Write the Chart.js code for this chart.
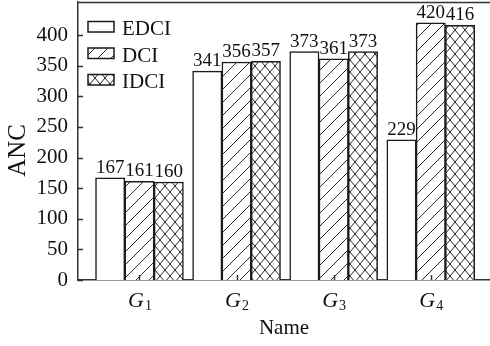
<!DOCTYPE html>
<html>
<head>
<meta charset="utf-8">
<script src="https://cdn.jsdelivr.net/npm/chart.js@4.4.0/dist/chart.umd.min.js"></script>
<style>
  html, body { margin: 0; padding: 0; background: #fff; }
  #wrap { width: 490px; height: 346px; }
</style>
</head>
<body>
<div id="wrap"><canvas id="c" width="490" height="346"></canvas></div>
<script>
const categories = ['G1', 'G2', 'G3', 'G4'];
const seriesNames = ['EDCI', 'DCI', 'IDCI'];
const edci = [167, 341, 373, 229];
const dci = [161, 356, 361, 420];
const idci = [160, 357, 373, 416];
const yTicks = [0, 50, 100, 150, 200, 250, 300, 350, 400];
const xTitle = 'Name';
const yTitle = 'ANC';

const FONT = "'Liberation Serif', 'Times New Roman', serif";
const INK = '#1a1a1a';

function makePattern(type) {
  if (type === 'none') return '#ffffff';
  const w = type === 'cross' ? 10 : 13;
  const h = type === 'cross' ? 12 : 13;
  const c = document.createElement('canvas');
  c.width = w; c.height = h;
  const g = c.getContext('2d');
  g.fillStyle = '#ffffff';
  g.fillRect(0, 0, w, h);
  g.strokeStyle = '#111';
  g.lineWidth = 0.9;
  g.beginPath();
  g.moveTo(-w * 0.1, h * 1.1); g.lineTo(w * 1.1, -h * 0.1);
  if (type === 'cross') { g.moveTo(-w * 0.1, -h * 0.1); g.lineTo(w * 1.1, h * 1.1); }
  g.stroke();
  return g.createPattern(c, 'repeat');
}
const fills = [makePattern('none'), makePattern('diag'), makePattern('cross')];
const seriesValues = [edci, dci, idci];

const datasets = seriesValues.map((vals, k) => ({
  label: seriesNames[k],
  data: vals.map((v, i) => ({ x: i + 1, y: v })),
  backgroundColor: fills[k],
  borderColor: INK,
  borderWidth: 1.5,
  barThickness: 29.3,
  borderSkipped: 'start'
}));

const overlay = {
  id: 'overlay',
  afterDatasetsDraw(chart) {
    const ctx = chart.ctx;
    const ca = chart.chartArea;
    const xs = chart.scales.x, ys = chart.scales.y;
    ctx.save();
    // frame top line
    ctx.strokeStyle = '#333';
    ctx.lineWidth = 1.5;
    ctx.beginPath();
    ctx.moveTo(ca.left, ca.top + 0.5);
    ctx.lineTo(ca.right, ca.top + 0.5);
    ctx.stroke();
    // inward ticks
    ctx.beginPath();
    yTicks.forEach(v => {
      const y = Math.round(ys.getPixelForValue(v)) + 0.5;
      ctx.moveTo(ca.left, y); ctx.lineTo(ca.left + 5, y);
    });
    categories.forEach((c, i) => {
      const x = Math.round(xs.getPixelForValue(i + 1)) + 0.5;
      ctx.moveTo(x, ca.bottom); ctx.lineTo(x, ca.bottom - 5);
    });
    ctx.stroke();
    // value labels
    ctx.fillStyle = '#111';
    ctx.font = '19px ' + FONT;
    ctx.textAlign = 'center';
    ctx.textBaseline = 'alphabetic';
    chart.data.datasets.forEach((ds, k) => {
      const meta = chart.getDatasetMeta(k);
      meta.data.forEach((el, i) => {
        ctx.fillText(String(seriesValues[k][i]), el.x, el.y - 5);
      });
    });
    // category labels with subscripts
    categories.forEach((c, i) => {
      const x = xs.getPixelForValue(i + 1);
      const main = c.charAt(0), sub = c.slice(1);
      ctx.font = 'italic 22px ' + FONT;
      const w1 = ctx.measureText(main).width;
      ctx.font = '14px ' + FONT;
      const w2 = ctx.measureText(sub).width;
      const x0 = x - (w1 + w2) / 2;
      ctx.textAlign = 'left';
      ctx.font = 'italic 22px ' + FONT;
      ctx.fillText(main, x0, ca.bottom + 27);
      ctx.font = '14px ' + FONT;
      ctx.fillText(sub, x0 + w1 + 1, ca.bottom + 30);
    });
    // legend
    const lx = ca.left + 10;
    let ly = ca.top + 24.5;
    chart.data.datasets.forEach((ds, k) => {
      ctx.fillStyle = ds.backgroundColor;
      ctx.fillRect(lx, ly - 5, 26, 10.5);
      ctx.strokeStyle = INK;
      ctx.lineWidth = 1.5;
      ctx.strokeRect(lx, ly - 5, 26, 10.5);
      ctx.fillStyle = '#111';
      ctx.font = '21px ' + FONT;
      ctx.textAlign = 'left';
      ctx.fillText(ds.label, lx + 34, ly + 8.5);
      ly += 26.5;
    });
    ctx.restore();
  }
};

new Chart(document.getElementById('c'), {
  type: 'bar',
  data: { datasets },
  options: {
    responsive: false,
    animation: false,
    devicePixelRatio: 1,
    layout: { padding: { top: 2, left: 0, right: 0, bottom: 0 } },
    plugins: { legend: { display: false }, tooltip: { enabled: false } },
    scales: {
      x: {
        type: 'linear',
        offset: false,
        min: 0.367,
        max: 4.61,
        grid: { display: false, drawTicks: false },
        border: { display: true, color: '#333', width: 1.5 },
        ticks: { display: false },
        afterBuildTicks: s => { s.ticks = categories.map((c, i) => ({ value: i + 1 })); },
        afterFit: s => { s.height = 66; s.paddingLeft = 0; s.paddingRight = 0; },
        title: { display: true, text: xTitle, color: '#111', font: { family: FONT, size: 21 }, padding: { top: 0, bottom: 5 } }
      },
      y: {
        min: 0,
        max: 454,
        grid: { display: false, drawTicks: false },
        border: { display: true, color: '#333', width: 1.5 },
        ticks: { color: '#111', font: { family: FONT, size: 21 }, padding: 10 },
        afterBuildTicks: s => { s.ticks = yTicks.map(v => ({ value: v })); },
        afterFit: s => { s.width = 78; s.paddingTop = 0; s.paddingBottom = 0; },
        title: { display: true, text: yTitle + '\u00a0\u00a0\u00a0', color: '#111', font: { family: FONT, size: 25 }, padding: { top: 3, bottom: 0 } }
      }
    }
  },
  plugins: [overlay]
});
</script>
</body>
</html>
